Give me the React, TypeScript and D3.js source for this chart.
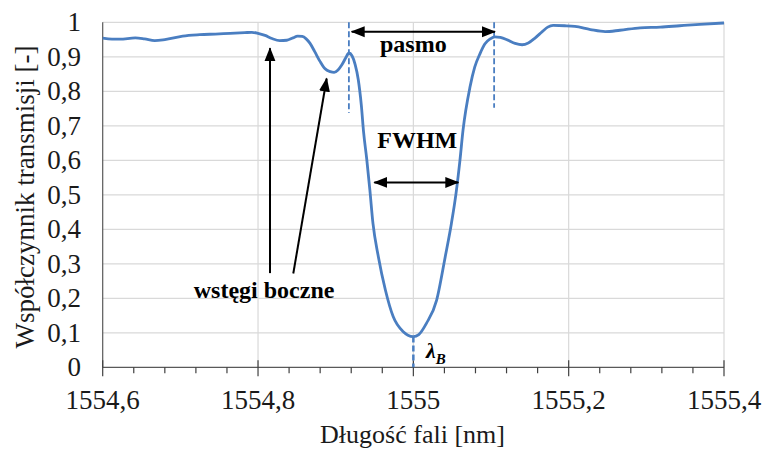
import React from "react";
import * as d3 from "d3";

// wavelength [nm]
const wavelengths = [
  1554.600, 1554.612, 1554.622, 1554.642, 1554.654, 1554.667, 1554.680, 1554.703, 1554.725, 1554.745,
  1554.764, 1554.783, 1554.792, 1554.800, 1554.809, 1554.818, 1554.828, 1554.837, 1554.845, 1554.851,
  1554.857, 1554.862, 1554.867, 1554.873, 1554.880, 1554.886, 1554.893, 1554.898, 1554.903, 1554.908,
  1554.913, 1554.917, 1554.921, 1554.925, 1554.929, 1554.933, 1554.936, 1554.940, 1554.944, 1554.948,
  1554.955, 1554.964, 1554.974, 1554.987, 1554.993, 1555.000, 1555.007, 1555.017, 1555.030, 1555.041,
  1555.049, 1555.055, 1555.060, 1555.064, 1555.073, 1555.079, 1555.086, 1555.092, 1555.099, 1555.105,
  1555.112, 1555.121, 1555.131, 1555.140, 1555.148, 1555.157, 1555.166, 1555.173, 1555.180, 1555.195,
  1555.208, 1555.228, 1555.247, 1555.266, 1555.292, 1555.318, 1555.343, 1555.369, 1555.400,
];
// transmission coefficient [-]
const transmission = [
  0.954, 0.951, 0.951, 0.955, 0.952, 0.947, 0.950, 0.960, 0.964, 0.966,
  0.968, 0.970, 0.971, 0.968, 0.962, 0.953, 0.947, 0.948, 0.955, 0.960,
  0.959, 0.952, 0.939, 0.915, 0.886, 0.866, 0.857, 0.855, 0.862, 0.877,
  0.897, 0.911, 0.903, 0.878, 0.835, 0.760, 0.680, 0.603, 0.514, 0.417,
  0.320, 0.224, 0.147, 0.103, 0.093, 0.089, 0.095, 0.128, 0.195, 0.320,
  0.417, 0.505, 0.600, 0.688, 0.813, 0.870, 0.910, 0.937, 0.952, 0.958,
  0.956, 0.949, 0.939, 0.935, 0.940, 0.955, 0.973, 0.986, 0.991, 0.990,
  0.988, 0.979, 0.973, 0.977, 0.984, 0.986, 0.990, 0.994, 0.998,
];

const xTickValues = [1554.6, 1554.8, 1555.0, 1555.2, 1555.4];
const xTickLabels = ["1554,6", "1554,8", "1555", "1555,2", "1555,4"];
const xMinorTicks = [1554.64, 1554.68, 1554.72, 1554.76, 1554.84, 1554.88, 1554.92, 1554.96,
  1555.04, 1555.08, 1555.12, 1555.16, 1555.24, 1555.28, 1555.32, 1555.36];
const yTickValues = [0, 0.1, 0.2, 0.3, 0.4, 0.5, 0.6, 0.7, 0.8, 0.9, 1];
const yTickLabels = ["0", "0,1", "0,2", "0,3", "0,4", "0,5", "0,6", "0,7", "0,8", "0,9", "1"];

// annotation anchors (data coordinates)
const bandEdges = [1554.917, 1555.104]; // "pasmo" dashed lines
const bandArrow = { x1: 1554.9206, x2: 1555.1051, y: 0.9728 };
const fwhmArrow = { x1: 1554.9497, x2: 1555.0579, y: 0.536 };
const sideArrows = [
  { x1: 1554.8154, y1: 0.273, x2: 1554.8154, y2: 0.925 },
  { x1: 1554.8454, y1: 0.272, x2: 1554.8884, y2: 0.837 },
];
const lambdaB = { x: 1555.0, yMin: 0.089 };

const W = 763;
const H = 451;
const FONT = "Liberation Serif";
const BLUE = "#4a7ec1";

export default function App() {
  const x = d3.scaleLinear().domain([1554.6, 1555.4]).range([102.7, 724]);
  const y = d3.scaleLinear().domain([0, 1]).range([367.3, 22.3]);
  const pts = wavelengths.map((w, i) => [w, transmission[i]] as [number, number]);
  const line = d3
    .line<[number, number]>()
    .x((d) => x(d[0]))
    .y((d) => y(d[1]))
    .curve(d3.curveMonotoneX);

  const x0 = x(1554.6);
  const x1 = x(1555.4);
  const y0 = y(0);
  const yTop = y(1);
  const tf = { fontFamily: FONT } as React.CSSProperties;

  return (
    <svg
      width={W}
      height={H}
      viewBox={`0 0 ${W} ${H}`}
      style={{ position: "absolute", left: 0, top: 0, background: "#fff" }}
    >
      <defs>
        <marker
          id="ah"
          markerUnits="userSpaceOnUse"
          viewBox="0 -6 14 12"
          refX={13}
          refY={0}
          markerWidth={14}
          markerHeight={12}
          orient="auto-start-reverse"
        >
          <path d="M0,-5.5L14,0L0,5.5Z" fill="#000" />
        </marker>
      </defs>
      {/* gridlines */}
      {yTickValues.slice(1).map((v) => (
        <line key={"gy" + v} x1={x0} x2={x1} y1={y(v)} y2={y(v)} stroke="#d9d9d9" strokeWidth={1.2} />
      ))}
      {xTickValues.slice(1).map((v) => (
        <line key={"gx" + v} x1={x(v)} x2={x(v)} y1={yTop} y2={y0} stroke="#d9d9d9" strokeWidth={1.2} />
      ))}
      {/* axes */}
      <line x1={x0} x2={x0} y1={yTop} y2={y0} stroke="#595959" strokeWidth={1.2} />
      <line x1={x0} x2={x1} y1={y0} y2={y0} stroke="#595959" strokeWidth={1.2} />
      {xTickValues.map((v) => (
        <line key={"mt" + v} x1={x(v)} x2={x(v)} y1={y0 - 7} y2={y0 + 9} stroke="#404040" strokeWidth={1.2} />
      ))}
      {xMinorTicks.map((v) => (
        <line key={"nt" + v} x1={x(v)} x2={x(v)} y1={y0} y2={y0 + 6} stroke="#404040" strokeWidth={1.2} />
      ))}
      {/* tick labels */}
      {xTickValues.map((v, i) => (
        <text key={"xl" + v} x={x(v)} y={408.5} textAnchor="middle" style={tf} fontSize={27} fill="#1a1a1a">
          {xTickLabels[i]}
        </text>
      ))}
      {yTickValues.map((v, i) => (
        <text key={"yl" + v} x={81} y={y(v) + 8.8} textAnchor="end" style={tf} fontSize={27} fill="#1a1a1a">
          {yTickLabels[i]}
        </text>
      ))}
      {/* axis titles */}
      <text x={412.5} y={443} textAnchor="middle" style={tf} fontSize={26} fill="#1a1a1a">
        Długość fali [nm]
      </text>
      <text
        transform={`translate(34,197) rotate(-90)`}
        textAnchor="middle"
        style={tf}
        fontSize={27}
        fill="#1a1a1a"
      >
        Współczynnik transmisji [-]
      </text>

      {/* band dashed lines */}
      <line x1={x(bandEdges[0])} x2={x(bandEdges[0])} y1={yTop} y2={y(0.737)} stroke={BLUE} strokeWidth={1.8} strokeDasharray="6,3" />
      <line x1={x(bandEdges[1])} x2={x(bandEdges[1])} y1={yTop} y2={y(0.752)} stroke={BLUE} strokeWidth={1.8} strokeDasharray="6,3" />
      {/* lambda_B dashed */}
      <line x1={x(lambdaB.x)} x2={x(lambdaB.x)} y1={y(lambdaB.yMin)} y2={y0} stroke={BLUE} strokeWidth={2.5} strokeDasharray="6,3" />

      {/* data line */}
      <path d={line(pts) || ""} fill="none" stroke={BLUE} strokeWidth={2.8} strokeLinejoin="round" />

      {/* arrows */}
      <line x1={x(bandArrow.x1)} x2={x(bandArrow.x2)} y1={y(bandArrow.y)} y2={y(bandArrow.y)} stroke="#000" strokeWidth={2}
        markerStart="url(#ah)" markerEnd="url(#ah)" />
      <line x1={x(fwhmArrow.x1)} x2={x(fwhmArrow.x2)} y1={y(fwhmArrow.y)} y2={y(fwhmArrow.y)} stroke="#000" strokeWidth={2}
        markerStart="url(#ah)" markerEnd="url(#ah)" />
      {sideArrows.map((a, i) => (
        <line key={"sa" + i} x1={x(a.x1)} y1={y(a.y1)} x2={x(a.x2)} y2={y(a.y2)} stroke="#000" strokeWidth={2} markerEnd="url(#ah)" />
      ))}

      {/* annotation texts */}
      <text x={x(1555.0)} y={y(0.915)} textAnchor="middle" style={tf} fontSize={24} fontWeight="bold" fill="#000">
        pasmo
      </text>
      <text x={x(1555.005)} y={y(0.635)} textAnchor="middle" style={tf} fontSize={24} fontWeight="bold" fill="#000">
        FWHM
      </text>
      <text x={x(1554.8078)} y={y(0.2009)} textAnchor="middle" style={tf} fontSize={24} fontWeight="bold" fill="#000">
        wstęgi boczne
      </text>
      <text x={x(1555.0163)} y={y(0.026)} style={tf} fontSize={22} fontWeight="bold" fontStyle="italic" fill="#000">
        λ
        <tspan fontSize={15} dy={6}>B</tspan>
      </text>
    </svg>
  );
}
